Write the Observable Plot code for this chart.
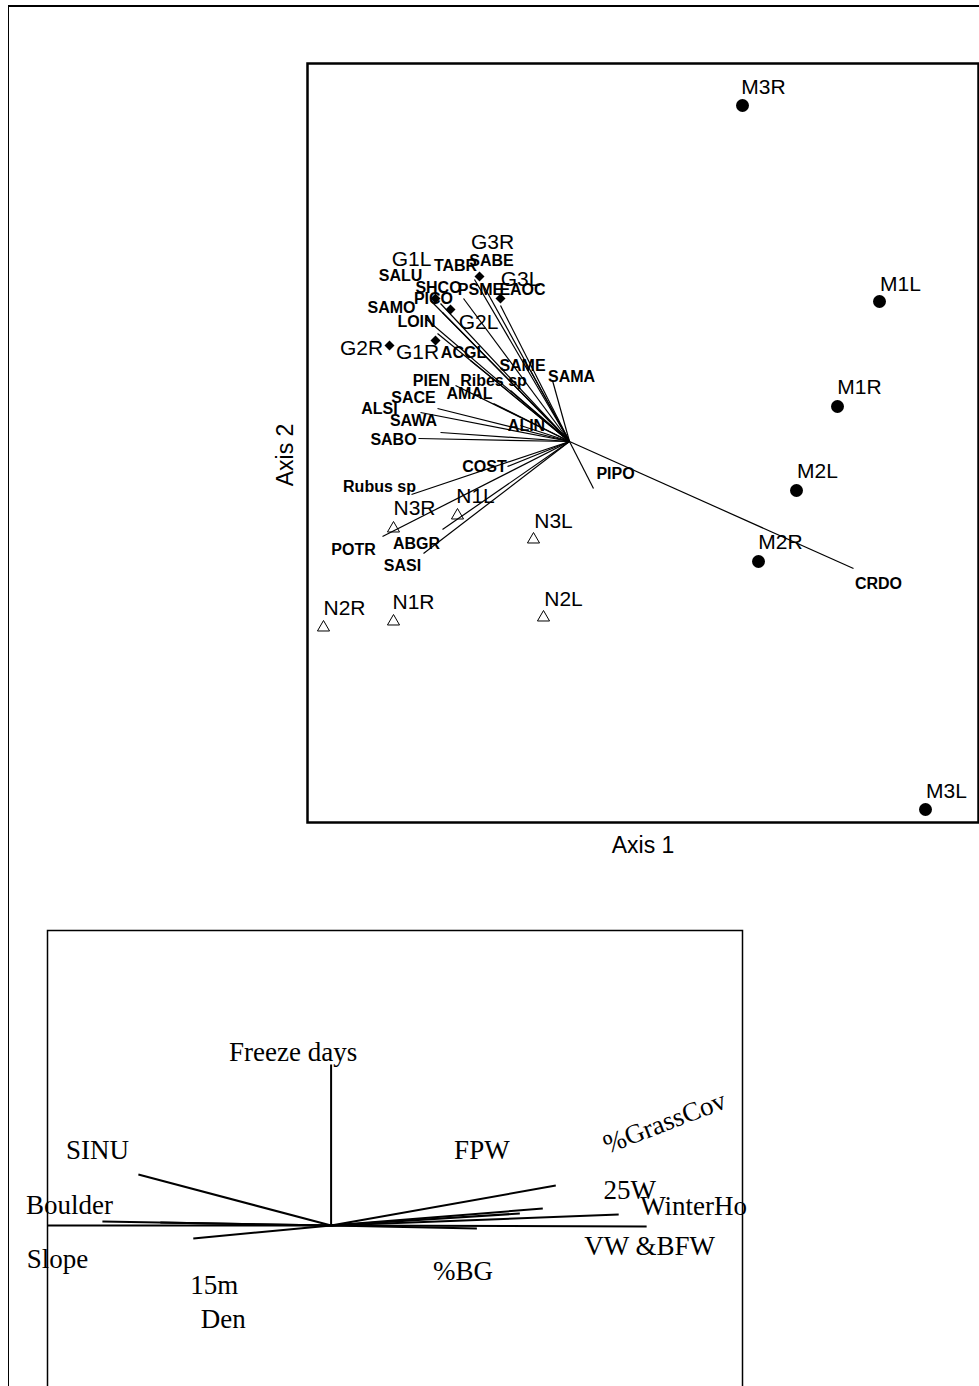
<!DOCTYPE html>
<html><head><meta charset="utf-8">
<script src="https://cdn.jsdelivr.net/npm/d3@7"></script>
<script src="https://cdn.jsdelivr.net/npm/@observablehq/plot@0.6"></script>
<style>
html,body{margin:0;padding:0;background:#fff;overflow:hidden;}
#page{position:relative;width:979px;height:1386px;overflow:hidden;background:#fff;}
#outer{position:absolute;left:8px;top:5px;width:1000px;height:1420px;border-left:1.5px solid #000;border-top:2px solid #000;}
#top,#bottom{position:absolute;}
#top{left:257px;top:43px;}
#bottom{left:46px;top:929px;}
</style></head>
<body><div id="page"><div id="outer"></div><div id="top"></div><div id="bottom"></div></div>
<script>
// ---- Sites (sample units) ----
const siteNames  = ["M3R","M1L","M1R","M2L","M2R","M3L","G3R","G3L","G2L","G1L","G1R","G2R","N3R","N1L","N3L","N2R","N1R","N2L"];
const siteGroup  = ["M","M","M","M","M","M","G","G","G","G","G","G","N","N","N","N","N","N"];
const siteAxis1  = [1.73,3.10,2.68,2.27,1.89,3.56,-0.90,-0.69,-1.19,-1.34,-1.34,-1.80,-1.76,-1.12,-0.36,-2.46,-1.76,-0.26];
const siteAxis2  = [3.36,1.40,0.35,-0.49,-1.20,-3.68,1.65,1.43,1.32,1.43,1.01,0.96,-0.87,-0.74,-0.98,-1.86,-1.80,-1.76];
const siteLabelAxis1 = [1.94,3.31,2.90,2.48,2.11,3.77,-0.77,-0.49,-0.91,-1.58,-1.52,-2.08,-1.55,-0.94,-0.16,-2.25,-1.56,-0.06];
const siteLabelAxis2 = [3.54,1.57,0.54,-0.30,-1.01,-3.50,1.99,1.62,1.19,1.82,0.89,0.93,-0.67,-0.55,-0.80,-1.67,-1.61,-1.58];

// ---- Species vectors ----
const speciesNames = ["TABR","SABE","SALU","SHCO","PSME","EAOC","PICO","SAMO","LOIN","ACGL","SAME","SAMA","PIEN","Ribes sp","SACE","AMAL","ALSI","SAWA","ALIN","SABO","COST","Rubus sp","PIPO","POTR","ABGR","SASI","CRDO"];
const speciesAxis1 = [-0.95,-0.86,-1.39,-1.29,-1.06,-0.69,-1.27,-1.44,-1.32,-0.99,-0.39,-0.17,-1.14,-0.59,-1.32,-0.76,-1.49,-1.29,-0.49,-1.51,-0.62,-1.58,0.24,-1.87,-1.27,-1.46,2.84];
const speciesAxis2 = [1.62,1.56,1.41,1.38,1.43,1.36,1.29,1.23,1.08,0.81,0.71,0.61,0.56,0.51,0.33,0.38,0.29,0.09,0.16,0.03,-0.25,-0.53,-0.47,-0.95,-0.88,-1.12,-1.27];
const speciesLabelAxis1 = [-1.14,-0.78,-1.69,-1.31,-0.89,-0.47,-1.36,-1.78,-1.53,-1.06,-0.47,0.02,-1.38,-0.76,-1.56,-1.00,-1.90,-1.56,-0.43,-1.76,-0.85,-1.90,0.46,-2.16,-1.53,-1.67,3.09];
const speciesLabelAxis2 = [1.76,1.81,1.66,1.54,1.52,1.52,1.43,1.34,1.20,0.89,0.76,0.65,0.61,0.61,0.44,0.48,0.33,0.21,0.16,0.02,-0.25,-0.45,-0.32,-1.08,-1.02,-1.24,-1.42];

// ---- Environmental vectors (lower panel) ----
const envNames = ["Freeze days","SINU","Boulder","Den","15m","Slope","FPW","%GrassCov","25W","WinterHo","VW &BFW","%BG"];
const envAxis1 = [0.00,-1.93,-2.84,-2.29,-1.71,-1.38,2.25,1.89,2.12,2.88,3.16,1.46];
const envAxis2 = [1.61,0.51,0.00,0.04,0.03,-0.13,0.40,0.12,0.17,0.11,-0.01,-0.03];
const envLabelAxis1 = [-0.38,-2.34,-2.62,-1.08,-1.17,-2.74,1.51,3.34,2.99,3.63,3.19,1.32];
const envLabelAxis2 = [1.73,0.75,0.20,-0.94,-0.60,-0.34,0.75,1.03,0.35,0.19,-0.21,-0.46];
const envLabelAngle = [0,0,0,0,0,0,0,-21,0,0,0,0];

const sites = siteNames.map((n,i)=>({name:n, group:siteGroup[i], x:siteAxis1[i], y:siteAxis2[i], lx:siteLabelAxis1[i], ly:siteLabelAxis2[i]}));
const species = speciesNames.map((n,i)=>({name:n, x:speciesAxis1[i], y:speciesAxis2[i], lx:speciesLabelAxis1[i], ly:speciesLabelAxis2[i]}));
const env = envNames.map((n,i)=>({name:n, x:envAxis1[i], y:envAxis2[i], lx:envLabelAxis1[i], ly:envLabelAxis2[i], a:envLabelAngle[i]}));

const arial = "Arial, 'Liberation Sans', Helvetica, sans-serif";
const times = "'Times New Roman', 'Liberation Serif', Times, serif";

const topPlot = Plot.plot({
  width: 722, height: 829,
  marginLeft: 50, marginRight: 1, marginTop: 20, marginBottom: 50,
  x: {domain: [-2.62, 4.09], axis: null},
  y: {domain: [-3.81, 3.78], axis: null},
  style: {background: "transparent", overflow: "visible"},
  marks: [
    Plot.frame({stroke: "#000", strokeWidth: 2.5}),
    Plot.link(species, {x1: () => 0, y1: () => 0, x2: "x", y2: "y", stroke: "#000", strokeWidth: 1.2}),
    Plot.dot(sites.filter(d => d.group === "M"), {x: "x", y: "y", r: 6.5, fill: "#000", stroke: "none"}),
    Plot.dot(sites.filter(d => d.group === "G"), {x: "x", y: "y", r: 4.5, symbol: "diamond2", fill: "#000", stroke: "none"}),
    Plot.dot(sites.filter(d => d.group === "N"), {x: "x", y: "y", r: 4.5, symbol: "triangle", fill: "none", stroke: "#000", strokeWidth: 1}),
    Plot.text(sites, {x: "lx", y: "ly", text: "name", fontSize: 21, fontFamily: arial, fill: "#000"}),
    Plot.text(species, {x: "lx", y: "ly", text: "name", fontSize: 16, fontWeight: "bold", fontFamily: arial, fill: "#000"}),
    Plot.text(["Axis 1"], {frameAnchor: "bottom", textAnchor: "middle", lineAnchor: "middle", dy: 23, fontSize: 23, fontFamily: arial, fill: "#000"}),
    Plot.text(["Axis 2"], {frameAnchor: "left", textAnchor: "middle", lineAnchor: "middle", dx: -22, dy: 12, rotate: -90, fontSize: 23, fontFamily: arial, fill: "#000"})
  ]
});
document.getElementById("top").appendChild(topPlot);

const bottomPlot = Plot.plot({
  width: 697, height: 471,
  marginLeft: 1, marginRight: 1, marginTop: 1, marginBottom: 0,
  x: {domain: [-2.84, 4.12], axis: null},
  y: {domain: [-1.75, 2.95], axis: null},
  style: {background: "transparent", overflow: "visible"},
  marks: [
    Plot.frame({stroke: "#000", strokeWidth: 1.5}),
    Plot.link(env, {x1: () => 0, y1: () => 0, x2: "x", y2: "y", stroke: "#000", strokeWidth: 2}),
    Plot.text(env.filter(d => d.a === 0), {x: "lx", y: "ly", text: "name", fontSize: 27, fontFamily: times, fill: "#000"}),
    Plot.text(env.filter(d => d.a !== 0), {x: "lx", y: "ly", text: "name", rotate: -21, fontSize: 27, fontFamily: times, fill: "#000"})
  ]
});
document.getElementById("bottom").appendChild(bottomPlot);
</script>
</body></html>
